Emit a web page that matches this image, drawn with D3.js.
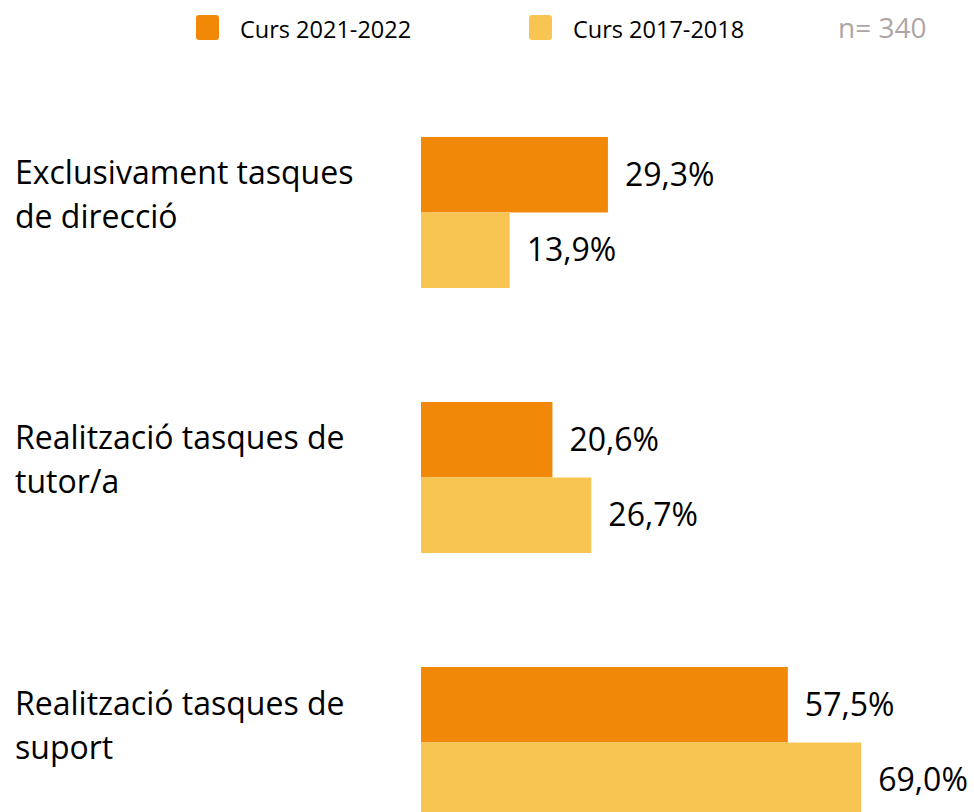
<!DOCTYPE html>
<html>
<head>
<meta charset="utf-8">
<script src="https://cdn.jsdelivr.net/npm/d3@7"></script>
<style>
  body { margin: 0; background: #fff; }
  text { font-family: "Open Sans", Lato, sans-serif; }
</style>
</head>
<body>
<script>
'use strict';

(function() {

  // chart data
  let categories = [
    ["Exclusivament tasques", "de direcció"],
    ["Realització tasques de", "tutor/a"],
    ["Realització tasques de", "suport"]
  ];
  let series = ["Curs 2021-2022", "Curs 2017-2018"];
  let values2021 = [29.3, 20.6, 57.5];
  let values2017 = [13.9, 26.7, 69.0];
  let sampleNote = "n= 340";

  let colors = {
    "Curs 2021-2022": "#F28808",
    "Curs 2017-2018": "#F8C553"
  };

  let catFormat = d3.formatLocale({ decimal: ",", thousands: ".", grouping: [3], currency: ["", "€"] })
    .format(".1f");

  let svgContainer = d3.select('body')
    .append('svg')
    .attr('width', 974)
    .attr('height', 812);

  // one row per category, one bar per series
  let rows = categories.map((c, i) => ({
    key: c.join(' '),
    lines: c,
    values: [values2021[i], values2017[i]]
  }));

  let xScale = d3.scaleLinear()
    .domain([0, 100])
    .range([421, 1059]);

  let yScale = d3.scaleBand()
    .domain(rows.map(d => d.key))
    .range([23, 932])
    .padding(0.43);

  let subScale = d3.scaleBand()
    .domain(series)
    .range([0, yScale.bandwidth()]);

  let groups = svgContainer.selectAll('.group')
    .data(rows)
    .enter()
    .append('g')
      .attr('class', 'group')
      .attr('transform', d => 'translate(0,' + yScale(d.key) + ')');

  let bars = groups.selectAll('.bar')
    .data(d => d.values.map((v, j) => ({ name: series[j], value: v })))
    .enter();

  bars.append('rect')
    .attr('x', xScale(0))
    .attr('y', d => subScale(d.name))
    .attr('width', d => xScale(d.value) - xScale(0))
    .attr('height', subScale.bandwidth())
    .attr('fill', d => colors[d.name]);

  bars.append('text')
    .attr('x', d => xScale(d.value) + 17)
    .attr('y', d => subScale(d.name) + subScale.bandwidth() / 2)
    .attr('dy', '0.35em')
    .style('font-size', '32px')
    .style('fill', '#000')
    .text(d => catFormat(d.value) + '%');

  // category labels, two lines each
  groups.append('text')
    .attr('x', 15)
    .attr('y', yScale.bandwidth() / 2)
    .style('font-size', '32px')
    .style('fill', '#000')
    .selectAll('tspan')
    .data(d => d.lines)
    .enter()
    .append('tspan')
      .attr('x', 15)
      .attr('dy', (d, i) => i == 0 ? -28 : 44)
      .text(d => d);

  // legend
  let legendX = [196, 529];
  let legend = svgContainer.selectAll('.legend')
    .data(series)
    .enter()
    .append('g')
      .attr('class', 'legend')
      .attr('transform', (d, i) => 'translate(' + legendX[i] + ', 15)');

  legend.append('rect')
    .attr('width', 23)
    .attr('height', 25)
    .attr('rx', 3)
    .attr('fill', d => colors[d]);

  legend.append('text')
    .attr('x', 44)
    .attr('y', 23)
    .style('font-size', '23.5px')
    .style('fill', '#000')
    .text(d => d);

  svgContainer.append('text')
    .attr('x', 838)
    .attr('y', 38)
    .style('font-size', '28px')
    .style('fill', '#AFA5A5')
    .text(sampleNote);

})();
</script>
</body>
</html>
